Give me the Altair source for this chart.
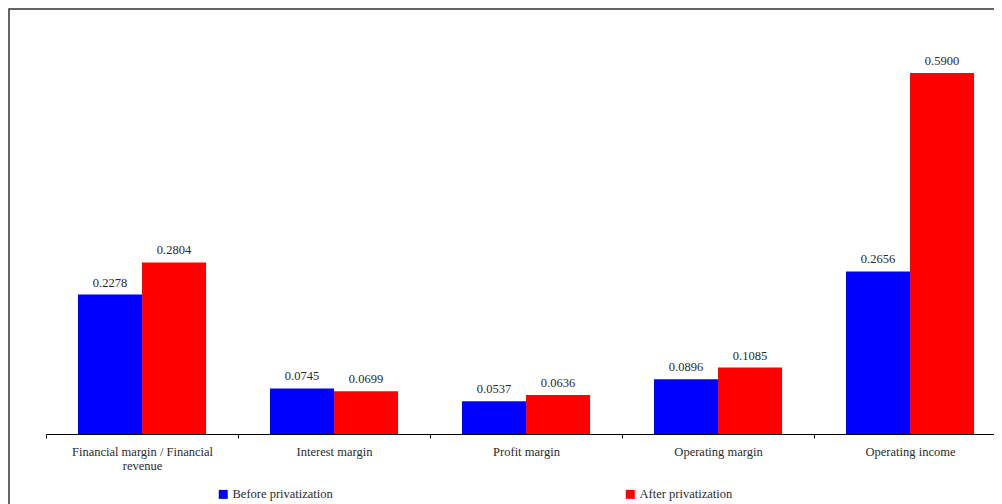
import altair as alt
import pandas as pd

categories = [
    "Financial margin / Financial revenue",
    "Interest margin",
    "Profit margin",
    "Operating margin",
    "Operating income",
]
series = ["Before privatization", "After privatization"]
before = [0.2278, 0.0745, 0.0537, 0.0896, 0.2656]
after = [0.2804, 0.0699, 0.0636, 0.1085, 0.5900]
colors = ["#0000FF", "#FF0000"]

rows = []
for c, b, a in zip(categories, before, after):
    rows.append({"category": c, "series": series[0], "value": b})
    rows.append({"category": c, "series": series[1], "value": a})
df = pd.DataFrame(rows)

FONT = "Liberation Serif"
TXT = "#2a2a2a"
FS = 12.5

label_expr = ("length(datum.label) > 30 ? "
              "[substring(datum.label, 0, lastindexof(datum.label, ' ')), "
              "substring(datum.label, lastindexof(datum.label, ' ') + 1)] : datum.label")

x = alt.X(
    "category:N", sort=categories, title=None,
    scale=alt.Scale(range=[0, 960], paddingInner=0, paddingOuter=0),
    axis=alt.Axis(labelAngle=0, tickBand="extent", tickSize=4, domainColor="black",
                  tickColor="black", domainWidth=1, labelFont=FONT, labelFontSize=FS,
                  labelColor=TXT, labelPadding=7, labelLineHeight=14,
                  labelExpr=label_expr, labelLimit=300, labelOverlap=False),
)
y = alt.Y("value:Q", scale=alt.Scale(domain=[0, 0.6928], nice=False, zero=True), axis=None)
xo = alt.XOffset("series:N", sort=series, scale=alt.Scale(paddingInner=0, paddingOuter=0.5))

color = alt.Color(
    "series:N", sort=series, scale=alt.Scale(domain=series, range=colors),
    legend=alt.Legend(orient="none", legendX=171, legendY=478, direction="horizontal",
                      title=None, symbolType="square", symbolSize=81, symbolStrokeWidth=0,
                      labelFont=FONT, labelFontSize=FS, labelColor=TXT, labelOffset=3,
                      columnPadding=291, symbolOpacity=1),
)

frame = alt.Chart(alt.Data(values=[{"f": 1}])).mark_rect(
    fillOpacity=0, stroke="#333333", strokeWidth=1.5
).encode(x=alt.value(-37), x2=alt.value(1200), y=alt.value(-1), y2=alt.value(1000))

base = alt.Chart(df)
bars = base.mark_bar().encode(x=x, xOffset=xo, y=y, color=color)
labels = base.mark_text(baseline="alphabetic", dy=-8, font=FONT, fontSize=FS, color=TXT).encode(
    x=x, xOffset=xo, y=y, text=alt.Text("value:Q", format=".4f")
)

chart = alt.layer(frame, bars, labels).properties(
    width=948, height=424,
    autosize=alt.AutoSizeParams(type="none"),
    padding={"left": 38, "top": 2, "right": 0, "bottom": 70},
    background="white",
).configure_view(stroke=None)

chart.save("out.html", embed_options={"renderer": "svg", "actions": False})
